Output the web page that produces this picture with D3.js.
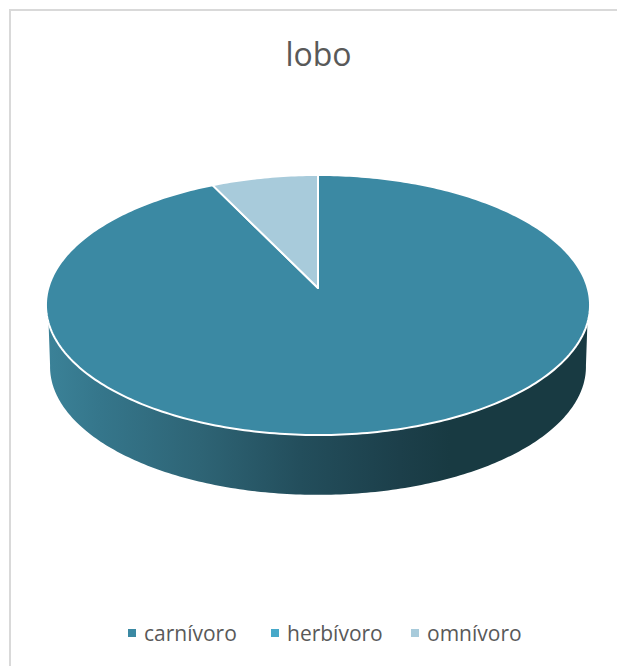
<!DOCTYPE html>
<html><head><meta charset="utf-8">
<style>html,body{margin:0;padding:0;background:#fff}svg{display:block}text{font-family:"Open Sans",sans-serif;fill:#595959}</style>
<script src="https://cdn.jsdelivr.net/npm/d3@7"></script></head>
<body><script>
const chartTitle = "lobo";
const categories = ["carnívoro", "herbívoro", "omnívoro"];
const values = [92.8, 0, 7.2];
const colors = ["#3b89a3", "#47a9c9", "#a8cbdb"];
const legendX = [128, 271, 411];
const wallStops = [[47,"#3b8298"],[100,"#35768b"],[200,"#2e6475"],[300,"#234e5c"],[400,"#1c3f4a"],[450,"#183a42"],[589,"#183a42"]];

const W = 617, H = 666;
const svg = d3.select("body").append("svg").attr("width", W).attr("height", H);
const defs = svg.append("defs");

// Perspective disc: unit circle -> screen
const cx = 318, apexY = 288, a = 127.8, b = -0.1308, c = 269.7;
const project = (t, r = 1, scale = 1, dy = 0) => {
  const u = r * Math.sin(t), v = -r * Math.cos(t), w = 1 + b * v;
  return [cx + scale * c * u / w, apexY + dy + scale * a * v / w];
};
const line = d3.line();

// border
svg.append("path").attr("d", `M10,${H}V10H${W}`).attr("fill", "none").attr("stroke", "#d9d9d9").attr("stroke-width", 2);

// wall
const grad = defs.append("linearGradient").attr("id", "wall").attr("gradientUnits", "userSpaceOnUse")
  .attr("x1", 47).attr("x2", 589).attr("y1", 0).attr("y2", 0);
const gx = d3.scaleLinear().domain([47, 589]).range([0, 1]);
wallStops.forEach(([x, col]) => grad.append("stop").attr("offset", gx(x)).attr("stop-color", col));

const deg = d3.scaleLinear().domain([0, 1]).range([Math.PI * 0.585, Math.PI * 1.415]);
const lowDeg = d3.scaleLinear().domain([0, 1]).range([Math.PI * 0.5 + 0.12, Math.PI * 1.5 - 0.12]);
const samples = d3.range(0, 1.0001, 0.005);
const topRim = samples.map(s => project(deg(s)));
const lowRim = samples.map(s => project(lowDeg(1 - s), 1, 0.985, 62));
svg.append("path").attr("d", line(topRim.concat(lowRim)) + "Z").attr("fill", "url(#wall)");

// top face
const pie = d3.pie().sort(null).value(d => d);
const arcs = pie(values);
const slice = d => {
  const n = Math.max(2, Math.ceil((d.endAngle - d.startAngle) * 60));
  const rim = d3.range(n + 1).map(i => project(d.startAngle + (d.endAngle - d.startAngle) * i / n));
  return line([project(0, 0)].concat(rim)) + "Z";
};
svg.append("g").selectAll("path").data(arcs.filter(d => d.value > 0)).join("path")
  .attr("d", slice).attr("fill", d => colors[d.index])
  .attr("stroke", "#fff").attr("stroke-width", 2).attr("stroke-linejoin", "round");

// title
svg.append("text").attr("x", 318.5).attr("y", 66).attr("text-anchor", "middle").attr("font-size", 32).text(chartTitle);

// legend
const lg = svg.append("g").selectAll("g").data(categories).join("g").attr("transform", (d, i) => `translate(${legendX[i]},0)`);
lg.append("rect").attr("x", 0).attr("y", 629).attr("width", 8).attr("height", 8).attr("fill", (d, i) => colors[i]);
lg.append("text").attr("x", 16).attr("y", 641).attr("font-size", 21).text(d => d);
</script></body></html>
